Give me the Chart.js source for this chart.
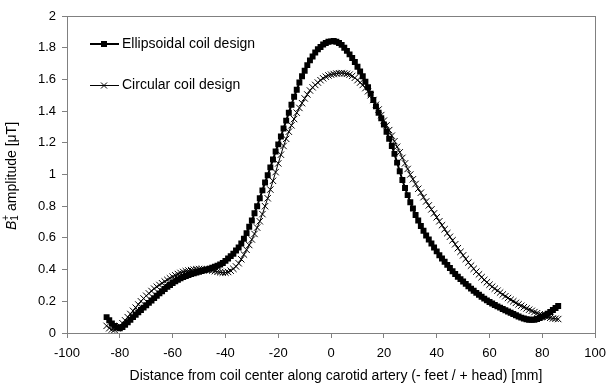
<!DOCTYPE html>
<html>
<head>
<meta charset="utf-8">
<script src="https://cdn.jsdelivr.net/npm/chart.js@4"></script>
<style>
  html, body { margin: 0; padding: 0; background: #fff; }
</style>
</head>
<body>
<canvas id="myChart" width="614" height="385"></canvas>
<script>
// distance from coil center [mm]
var distance = [
  -85, -84, -83, -82, -81, -80, -79, -78, -77, -76,
  -75, -74, -73, -72, -71, -70, -69, -68, -67, -66,
  -65, -64, -63, -62, -61, -60, -59, -58, -57, -56,
  -55, -54, -53, -52, -51, -50, -49, -48, -47, -46,
  -45, -44, -43, -42, -41, -40, -39, -38, -37, -36,
  -35, -34, -33, -32, -31, -30, -29, -28, -27, -26,
  -25, -24, -23, -22, -21, -20, -19, -18, -17, -16,
  -15, -14, -13, -12, -11, -10, -9, -8, -7, -6,
  -5, -4, -3, -2, -1, 0, 1, 2, 3, 4,
  5, 6, 7, 8, 9, 10, 11, 12, 13, 14,
  15, 16, 17, 18, 19, 20, 21, 22, 23, 24,
  25, 26, 27, 28, 29, 30, 31, 32, 33, 34,
  35, 36, 37, 38, 39, 40, 41, 42, 43, 44,
  45, 46, 47, 48, 49, 50, 51, 52, 53, 54,
  55, 56, 57, 58, 59, 60, 61, 62, 63, 64,
  65, 66, 67, 68, 69, 70, 71, 72, 73, 74,
  75, 76, 77, 78, 79, 80, 81, 82, 83, 84,
  85, 86
];

// B1+ amplitude [uT], ellipsoidal coil
var ellipsoidal = [
  0.10, 0.08, 0.06, 0.045, 0.035, 0.03, 0.038, 0.052, 0.068, 0.084,
  0.10, 0.115, 0.13, 0.145, 0.16, 0.175, 0.19, 0.205, 0.22, 0.235,
  0.25, 0.264, 0.278, 0.291, 0.303, 0.315, 0.326, 0.336, 0.345, 0.353,
  0.36, 0.366, 0.372, 0.377, 0.382, 0.387, 0.391, 0.396, 0.401, 0.406,
  0.412, 0.418, 0.424, 0.432, 0.442, 0.455, 0.47, 0.485, 0.50, 0.52,
  0.54, 0.565, 0.595, 0.63, 0.67, 0.71, 0.755, 0.80, 0.85, 0.90,
  0.95, 0.995, 1.045, 1.095, 1.145, 1.19, 1.24, 1.29, 1.34, 1.39,
  1.44, 1.49, 1.535, 1.58, 1.62, 1.655, 1.69, 1.72, 1.745, 1.77,
  1.79, 1.805, 1.82, 1.83, 1.837, 1.84, 1.842, 1.838, 1.83, 1.818,
  1.80, 1.78, 1.758, 1.735, 1.71, 1.68, 1.65, 1.62, 1.585, 1.55,
  1.51, 1.47, 1.43, 1.39, 1.355, 1.315, 1.27, 1.225, 1.18, 1.13,
  1.075, 1.02, 0.965, 0.915, 0.87, 0.825, 0.785, 0.745, 0.71, 0.675,
  0.645, 0.615, 0.59, 0.565, 0.54, 0.515, 0.49, 0.47, 0.45, 0.43,
  0.41, 0.39, 0.372, 0.355, 0.34, 0.325, 0.31, 0.295, 0.28, 0.266,
  0.253, 0.241, 0.229, 0.217, 0.206, 0.195, 0.186, 0.177, 0.168, 0.16,
  0.152, 0.144, 0.136, 0.128, 0.12, 0.112, 0.104, 0.097, 0.091, 0.087,
  0.084, 0.083, 0.084, 0.088, 0.095, 0.103, 0.112, 0.122, 0.133, 0.145,
  0.158, 0.17
];

// B1+ amplitude [uT], circular coil
var circular = [
  0.045, 0.03, 0.022, 0.02, 0.03, 0.045, 0.062, 0.08, 0.10, 0.12,
  0.14, 0.16, 0.18, 0.20, 0.218, 0.235, 0.25, 0.265, 0.28, 0.292,
  0.303, 0.314, 0.325, 0.335, 0.345, 0.355, 0.364, 0.372, 0.379, 0.385,
  0.39, 0.394, 0.397, 0.40, 0.402, 0.403, 0.403, 0.402, 0.40, 0.397,
  0.394, 0.39, 0.386, 0.383, 0.381, 0.381, 0.385, 0.393, 0.405, 0.42,
  0.44, 0.465, 0.495, 0.525, 0.555, 0.59, 0.625, 0.665, 0.705, 0.75,
  0.80, 0.85, 0.905, 0.96, 1.015, 1.07, 1.125, 1.18, 1.225, 1.27,
  1.31, 1.35, 1.39, 1.42, 1.45, 1.48, 1.505, 1.53, 1.55, 1.565,
  1.58, 1.595, 1.607, 1.617, 1.625, 1.63, 1.634, 1.637, 1.639, 1.64,
  1.638, 1.635, 1.63, 1.622, 1.61, 1.595, 1.58, 1.565, 1.545, 1.525,
  1.50, 1.47, 1.44, 1.41, 1.375, 1.34, 1.31, 1.28, 1.245, 1.21,
  1.175, 1.14, 1.105, 1.07, 1.035, 1.00, 0.97, 0.94, 0.91, 0.885,
  0.857, 0.83, 0.805, 0.78, 0.755, 0.73, 0.705, 0.68, 0.655, 0.63,
  0.607, 0.585, 0.56, 0.535, 0.512, 0.49, 0.467, 0.445, 0.425, 0.405,
  0.387, 0.37, 0.352, 0.335, 0.32, 0.305, 0.292, 0.28, 0.267, 0.255,
  0.243, 0.232, 0.221, 0.21, 0.2, 0.19, 0.181, 0.172, 0.163, 0.155,
  0.147, 0.14, 0.132, 0.125, 0.118, 0.112, 0.106, 0.10, 0.096, 0.092,
  0.09, 0.088
];

var seriesNames = ["Ellipsoidal coil design", "Circular coil design"];
var xTitle = "Distance from coil center along carotid artery (- feet / + head) [mm]";

var fontFamily = "'Liberation Sans', Arial, sans-serif";
var axisGrey = "#808080";

function toPoints(ys) {
  var pts = [];
  for (var i = 0; i < distance.length; i++) {
    pts.push({ x: distance[i], y: ys[i] });
  }
  return pts;
}

// frame, in-plot legend and axis titles
var extrasPlugin = {
  id: "extras",
  afterDraw: function (chart) {
    var ctx = chart.ctx;
    var a = chart.chartArea;
    ctx.save();

    // box around plot area
    ctx.strokeStyle = axisGrey;
    ctx.lineWidth = 1;
    ctx.strokeRect(Math.round(a.left) + 0.5, Math.round(a.top) + 0.5,
      Math.round(a.right - a.left), Math.round(a.bottom - a.top));

    // legend
    ctx.fillStyle = "#000";
    ctx.strokeStyle = "#000";
    ctx.font = "14px " + fontFamily;
    ctx.textBaseline = "middle";
    ctx.textAlign = "left";

    var ly1 = 44, ly2 = 85;
    ctx.lineWidth = 2;
    ctx.beginPath(); ctx.moveTo(90, ly1); ctx.lineTo(119, ly1); ctx.stroke();
    ctx.fillRect(101, ly1 - 3, 6, 6);
    ctx.fillText(seriesNames[0], 122, ly1);

    ctx.lineWidth = 1;
    ctx.beginPath(); ctx.moveTo(90, ly2 + 0.5); ctx.lineTo(119, ly2 + 0.5); ctx.stroke();
    ctx.beginPath();
    ctx.moveTo(101, ly2 - 2.5); ctx.lineTo(107, ly2 + 3.5);
    ctx.moveTo(107, ly2 - 2.5); ctx.lineTo(101, ly2 + 3.5);
    ctx.stroke();
    ctx.fillText(seriesNames[1], 122, ly2);

    // x title
    ctx.textAlign = "center";
    ctx.fillText(xTitle, 336, 376);

    // y title: B1+ amplitude [μT]
    ctx.translate(12, 176);
    ctx.rotate(-Math.PI / 2);
    ctx.textAlign = "left";
    var parts = [
      { t: "B", f: "italic 14px " + fontFamily, dy: 0 },
      { t: "1", f: "10px " + fontFamily, dy: 3, stackNext: true },
      { t: "+", f: "10px " + fontFamily, dy: -6 },
      { t: " amplitude [", f: "14px " + fontFamily, dy: 0 },
      { t: "\u03bc", f: "14px " + fontFamily, dy: 0 },
      { t: "T]", f: "14px " + fontFamily, dy: 0 }
    ];
    var total = 0, i, w;
    for (i = 0; i < parts.length; i++) {
      ctx.font = parts[i].f;
      w = ctx.measureText(parts[i].t).width;
      parts[i].w = parts[i].stackNext ? 0 : w;
      total += parts[i].w;
    }
    var x = -total / 2;
    for (i = 0; i < parts.length; i++) {
      ctx.font = parts[i].f;
      ctx.fillText(parts[i].t, x, parts[i].dy);
      x += parts[i].w;
    }
    ctx.restore();
  }
};

var config = {
  type: "line",
  data: {
    datasets: [
      {
        label: seriesNames[0],
        data: toPoints(ellipsoidal),
        borderColor: "#000",
        backgroundColor: "#000",
        borderWidth: 2,
        pointStyle: "rect",
        pointRadius: 4.2,
        pointBorderWidth: 0,
        pointBackgroundColor: "#000",
        tension: 0
      },
      {
        label: seriesNames[1],
        data: toPoints(circular),
        borderColor: "#000",
        backgroundColor: "#000",
        borderWidth: 1,
        pointStyle: "crossRot",
        pointRadius: 4.5,
        pointBorderWidth: 1,
        pointBorderColor: "#000",
        tension: 0
      }
    ]
  },
  options: {
    responsive: false,
    animation: false,
    devicePixelRatio: 1,
    layout: { padding: { top: 16, right: 12, left: 0, bottom: 0 } },
    plugins: {
      legend: { display: false },
      tooltip: { enabled: false }
    },
    scales: {
      x: {
        type: "linear",
        min: -100,
        max: 100,
        ticks: { stepSize: 20, color: "#000", padding: 8, font: { family: fontFamily, size: 13 } },
        grid: { drawOnChartArea: false, drawTicks: true, tickLength: 5, color: axisGrey },
        border: { display: true, color: axisGrey },
        afterFit: function (s) { s.height = 52; }
      },
      y: {
        min: 0,
        max: 2,
        ticks: {
          stepSize: 0.2, color: "#000", padding: 6, font: { family: fontFamily, size: 13 },
          callback: function (v) { return String(Math.round(v * 10) / 10); }
        },
        grid: { drawOnChartArea: false, drawTicks: true, tickLength: 5, color: axisGrey },
        border: { display: true, color: axisGrey },
        afterFit: function (s) { s.width = 67; }
      }
    }
  },
  plugins: [extrasPlugin]
};

var myChart = new Chart(document.getElementById("myChart"), config);
</script>
</body>
</html>
